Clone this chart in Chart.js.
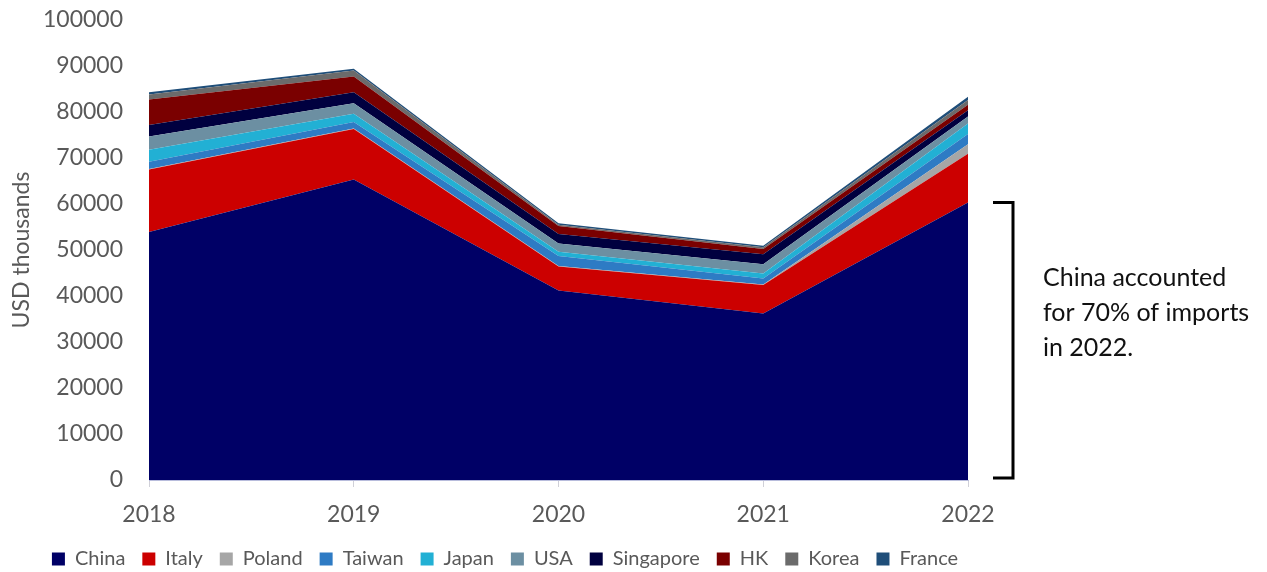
<!DOCTYPE html>
<html>
<head>
<meta charset="utf-8">
<script src="https://cdn.jsdelivr.net/npm/chart.js@4.4.1/dist/chart.umd.min.js"></script>
<style>
html,body{margin:0;padding:0;background:#fff;}
#wrap{width:1267px;height:572px;position:relative;}
</style>
</head>
<body>
<div id="wrap"><canvas id="c" width="1267" height="572"></canvas></div>
<script>
const years = ['2018','2019','2020','2021','2022'];
const china     = [53900, 65300, 41200, 36200, 60300];
const italy     = [13600, 11000,  5200,  6200, 10600];
const poland    = [  100,   100,   100,   100,  2100];
const taiwan    = [ 1600,  1400,  2200,  1300,  2200];
const japan     = [ 2600,  1800,   900,  1100,  2300];
const usa       = [ 2900,  2300,  1800,  2000,  1500];
const singapore = [ 2500,  2400,  2100,  2200,  1400];
const hk        = [ 5500,  3400,  1700,  1100,  1200];
const korea     = [ 1100,  1300,   300,   400,  1000];
const france    = [  500,   400,   300,   300,   700];
const yTicks = [0,10000,20000,30000,40000,50000,60000,70000,80000,90000,100000];
const annotationLines = ['China accounted', 'for 70% of imports', 'in 2022.'];

const seriesNames  = ['China','Italy','Poland','Taiwan','Japan','USA','Singapore','HK','Korea','France'];
const seriesValues = [china, italy, poland, taiwan, japan, usa, singapore, hk, korea, france];
const seriesColors = ['#000066','#CC0000','#A6A6A6','#2E7BC4','#22B0D4','#6C8FA2','#00003F','#7A0000','#6B6B6B','#1F4E79'];

const FONT = 'Lato, "Open Sans", sans-serif';
const GREY = '#595959';

const datasets = seriesNames.map((n,i)=>({
  label: n,
  data: seriesValues[i],
  backgroundColor: seriesColors[i],
  borderColor: seriesColors[i],
  borderWidth: 0,
  pointRadius: 0,
  pointHoverRadius: 0,
  tension: 0,
  fill: i === 0 ? 'origin' : '-1'
}));

const legendShift = {
  id: 'legendShift',
  afterInit(chart){
    const lg = chart.legend;
    if (!lg) return;
    const origFit = lg.fit;
    lg.fit = function(){ origFit.call(this); this.height -= 7; };
    const origDraw = lg.draw;
    lg.draw = function(){
      const ctx = this.ctx;
      ctx.save();
      ctx.translate(17, 0);
      origDraw.apply(this, arguments);
      ctx.restore();
    };
  }
};

const annotationPlugin = {
  id: 'bracketNote',
  afterDraw(chart){
    const ctx = chart.ctx;
    const ys = chart.scales.y;
    const top = ys.getPixelForValue(china[china.length-1]);
    const bot = ys.getPixelForValue(0) - 2;
    ctx.save();
    ctx.strokeStyle = '#000';
    ctx.lineWidth = 3;
    ctx.beginPath();
    ctx.moveTo(993, top);
    ctx.lineTo(1013, top);
    ctx.lineTo(1013, bot);
    ctx.lineTo(993, bot);
    ctx.stroke();
    ctx.fillStyle = '#111';
    ctx.font = '25px ' + FONT;
    ctx.textBaseline = 'middle';
    ctx.textAlign = 'left';
    annotationLines.forEach((t,k)=>ctx.fillText(t, 1043, 278 + k*35));
    ctx.restore();
  }
};

new Chart(document.getElementById('c'), {
  type: 'line',
  data: { labels: years, datasets },
  options: {
    responsive: false,
    animation: false,
    layout: { padding: { left: 8, right: 299, top: 20, bottom: 0 } },
    plugins: {
      legend: {
        position: 'bottom',
        labels: {
          boxWidth: 13, boxHeight: 13,
          color: GREY,
          font: { family: FONT, size: 20 },
          padding: 17
        }
      },
      tooltip: { enabled: false }
    },
    scales: {
      x: {
        offset: false,
        grid: { display: true, drawOnChartArea: false, drawTicks: true, tickLength: 7, color: '#D0D0D8' },
        border: { display: true, color: '#B8BCDC', width: 1 },
        ticks: { color: GREY, font: { family: FONT, size: 23 }, padding: 14, maxRotation: 0 },
        afterFit(s){ s.height = 52; }
      },
      y: {
        stacked: true,
        min: 0, max: 100000,
        afterBuildTicks(s){ s.ticks = yTicks.map(v=>({value:v})); },
        grid: { display: false },
        border: { display: false },
        ticks: { color: GREY, font: { family: FONT, size: 23 }, padding: 18, callback: v => String(v) },
        title: { display: true, text: 'USD thousands', color: GREY, font: { family: FONT, size: 23 }, padding: 0 },
        afterFit(s){ s.width = 141; s.paddingTop = 0; s.paddingBottom = 0; }
      }
    }
  },
  plugins: [legendShift, annotationPlugin]
});
</script>
</body>
</html>
